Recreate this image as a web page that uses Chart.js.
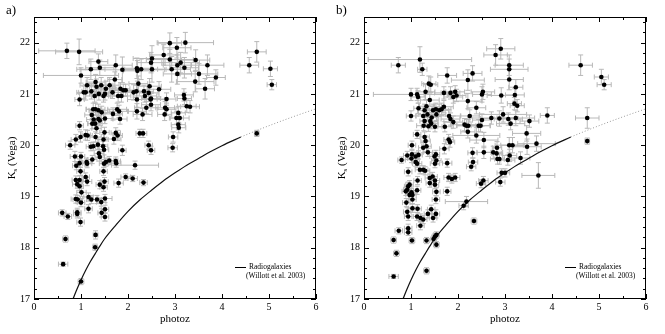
<!DOCTYPE html>
<html>
<head>
<meta charset="utf-8">
<script src="https://cdn.jsdelivr.net/npm/chart.js@4"></script>
<style>
body { margin: 0; background: #fff; width: 665px; height: 334px; position: relative; overflow: hidden; }
canvas { position: absolute; top: 0; }
</style>
</head>
<body>
<canvas id="chartA" width="332" height="334" style="left:0"></canvas>
<canvas id="chartB" width="332" height="334" style="left:330px"></canvas>
<script>
// [photoz, Ks, err photoz, err Ks]
var pointsA = [
  [0.70,21.84,0.6,0.15],[0.96,21.82,0.5,0.25],[1.00,21.36,0.8,0.15],[1.21,21.48,0.3,0.2],[1.37,21.63,0.2,0.15],
  [1.40,21.51,0.3,0.15],[1.74,21.56,0.35,0.2],[1.88,21.47,0.9,0.25],[2.19,21.50,0.3,0.2],[2.20,21.45,0.3,0.2],
  [2.28,21.48,0.35,0.2],[2.51,21.48,0.3,0.25],[2.49,21.61,0.3,0.2],[2.51,21.69,0.4,0.25],[2.76,21.76,0.3,0.2],
  [2.89,21.99,0.25,0.2],[3.04,21.90,0.3,0.2],[3.22,22.00,0.6,0.2],[2.89,21.67,0.5,0.2],[2.93,21.48,0.4,0.25],
  [3.05,21.56,0.3,0.2],[3.12,21.61,0.4,0.2],[3.20,21.51,0.3,0.2],[3.05,21.39,0.3,0.2],[3.44,21.66,0.3,0.2],
  [3.69,21.56,0.35,0.2],[3.51,21.39,0.4,0.2],[3.87,21.32,0.2,0.15],[3.43,21.24,0.4,0.2],[3.64,21.10,0.2,0.2],
  [4.58,21.56,0.2,0.15],[4.74,21.82,0.2,0.2],[5.03,21.49,0.15,0.15],[5.06,21.18,0.1,0.1],[4.74,20.23,0.05,0.06],
  [1.13,21.17,0.15,0.15],[1.10,21.03,0.15,0.15],[1.31,21.23,0.2,0.15],[1.33,21.14,0.15,0.15],[1.29,20.96,0.2,0.12],
  [1.38,21.00,0.2,0.12],[1.48,20.96,0.15,0.12],[1.53,21.10,0.2,0.15],[1.51,21.00,0.2,0.12],[1.43,21.17,0.25,0.15],
  [1.61,21.17,0.2,0.15],[1.67,21.03,0.2,0.12],[1.72,21.28,0.15,0.15],[1.79,20.96,0.2,0.12],[1.84,21.10,0.2,0.12],
  [1.90,21.07,0.3,0.12],[1.95,21.07,0.25,0.12],[1.86,20.96,0.2,0.12],[2.12,21.03,0.25,0.15],[2.18,21.05,0.2,0.12],
  [2.22,21.20,0.2,0.15],[2.34,21.05,0.2,0.12],[2.46,21.15,0.25,0.15],[2.44,21.02,0.2,0.12],[2.49,20.91,0.2,0.12],
  [2.36,20.96,0.25,0.12],[2.19,20.89,0.2,0.15],[2.66,21.09,0.25,0.15],[0.97,20.89,0.1,0.12],[3.19,20.98,0.2,0.12],
  [3.20,20.91,0.15,0.12],[2.82,20.90,0.2,0.12],[1.06,21.03,0.15,0.12],[1.22,21.05,0.2,0.15],
  [1.26,20.70,0.15,0.12],[1.31,20.70,0.2,0.12],[1.37,20.68,0.2,0.12],[1.44,20.64,0.25,0.12],[1.23,20.59,0.15,0.1],
  [1.27,20.50,0.15,0.1],[1.24,20.42,0.1,0.1],[1.30,20.42,0.15,0.1],[1.37,20.51,0.15,0.1],[1.51,20.52,0.15,0.1],
  [1.68,20.61,0.2,0.12],[1.77,20.70,0.2,0.12],[1.81,20.66,0.2,0.12],[1.83,20.51,0.15,0.1],[2.19,20.66,0.2,0.15],
  [2.31,20.60,0.2,0.12],[2.39,20.73,0.25,0.12],[2.49,20.79,0.2,0.12],[2.48,20.89,0.3,0.12],[2.79,20.73,0.2,0.12],
  [2.78,20.60,0.15,0.12],[2.82,20.70,0.2,0.12],[3.03,20.53,0.15,0.12],[3.10,20.53,0.2,0.12],[3.07,20.63,0.15,0.12],
  [3.07,20.40,0.15,0.1],[3.08,20.34,0.15,0.1],[3.25,20.76,0.2,0.12],[3.32,20.75,0.2,0.12],[0.97,20.38,0.08,0.08],
  [1.40,20.48,0.1,0.1],[1.33,20.33,0.1,0.1],
  [0.99,20.16,0.1,0.1],[1.10,20.20,0.1,0.1],[1.14,20.19,0.1,0.1],[0.77,20.00,0.1,0.08],[0.89,20.11,0.1,0.1],
  [1.21,19.97,0.1,0.08],[1.26,19.98,0.1,0.08],[1.31,20.16,0.12,0.1],[1.36,20.01,0.1,0.1],[1.48,20.11,0.1,0.1],
  [1.50,20.25,0.1,0.1],[1.47,19.98,0.1,0.1],[1.49,19.91,0.1,0.1],[1.38,19.84,0.1,0.08],[1.40,19.77,0.1,0.08],
  [1.70,20.12,0.15,0.1],[1.74,20.24,0.1,0.1],[1.78,20.19,0.1,0.1],[2.25,20.23,0.08,0.08],[2.32,20.23,0.08,0.08],
  [2.44,20.00,0.08,0.08],[2.49,19.90,0.08,0.08],[1.88,19.90,0.08,0.1],[2.95,19.95,0.1,0.08],[2.96,20.16,0.1,0.1],
  [0.87,19.78,0.1,0.1],[0.90,19.60,0.08,0.08],[0.97,19.65,0.1,0.08],[1.00,19.78,0.08,0.08],[0.99,19.49,0.08,0.08],
  [1.12,19.67,0.1,0.08],[1.13,19.64,0.1,0.08],[0.97,19.32,0.08,0.08],[0.89,19.32,0.08,0.08],[0.92,19.24,0.1,0.08],
  [0.97,19.20,0.08,0.08],[1.10,19.38,0.08,0.08],[1.13,19.29,0.1,0.08],[1.40,19.23,0.08,0.08],[1.24,19.72,0.1,0.08],
  [1.49,19.64,0.1,0.08],[1.48,19.49,0.08,0.08],[1.53,19.67,0.1,0.08],[1.50,19.29,0.08,0.08],[1.48,19.18,0.08,0.08],
  [1.60,19.70,0.1,0.08],[1.74,19.69,0.1,0.08],[1.75,19.65,0.1,0.08],[1.80,19.26,0.1,0.08],[1.95,19.38,0.1,0.06],
  [2.10,19.35,0.1,0.06],[2.15,19.61,0.5,0.08],[2.33,19.27,0.08,0.06],
  [0.89,18.95,0.1,0.08],[0.93,18.94,0.1,0.08],[1.01,19.08,0.1,0.08],[1.00,18.88,0.08,0.08],[1.16,18.99,0.1,0.08],
  [1.22,18.94,0.1,0.08],[1.34,18.94,0.1,0.08],[1.43,18.89,0.1,0.08],[1.51,18.96,0.15,0.08],[1.16,18.76,0.08,0.08],
  [0.92,18.69,0.08,0.08],[0.92,18.66,0.08,0.08],[0.60,18.68,0.08,0.06],[0.72,18.61,0.08,0.06],[0.99,18.50,0.08,0.08],
  [1.44,18.68,0.08,0.08],[1.51,18.60,0.08,0.08],[1.51,18.75,0.08,0.08],
  [0.67,18.17,0.06,0.06],[1.31,18.25,0.05,0.08],[1.30,18.01,0.05,0.06],[0.62,17.68,0.1,0.04],[1.00,17.34,0.06,0.06]
]
var pointsB = [
  [0.73,21.56,0.15,0.15],[1.19,21.67,1.1,0.25],[1.24,21.48,0.1,0.12],[2.80,21.76,0.25,0.2],[2.91,21.88,0.3,0.2],
  [3.09,21.48,0.4,0.2],[3.09,21.56,0.3,0.2],[3.09,21.28,0.3,0.2],[2.31,21.40,0.2,0.15],[2.21,21.27,0.35,0.2],
  [1.77,21.36,0.2,0.15],[4.61,21.56,0.25,0.2],[5.05,21.33,0.15,0.15],[5.11,21.18,0.15,0.1],
  [1.00,20.99,0.8,0.12],[1.13,20.99,0.15,0.12],[1.15,20.94,0.15,0.12],[1.31,21.04,0.2,0.15],[1.38,21.20,0.15,0.15],
  [1.42,21.18,0.15,0.15],[1.40,20.88,0.2,0.12],[1.70,21.02,0.2,0.12],[1.84,21.02,0.2,0.12],[1.94,21.04,0.2,0.12],
  [1.97,20.97,0.2,0.12],[1.90,20.94,0.2,0.12],[2.21,20.86,0.3,0.15],[2.51,20.99,0.2,0.15],[2.53,21.04,0.25,0.15],
  [2.92,20.97,0.3,0.15],[3.23,21.13,0.15,0.15],[3.21,20.98,0.2,0.12],[2.39,20.73,0.2,0.12],[1.16,20.72,0.1,0.1],
  [1.00,20.57,0.1,0.1],[1.29,20.68,0.15,0.12],[1.33,20.76,0.15,0.12],[1.35,20.60,0.2,0.12],[1.26,20.57,0.15,0.1],
  [1.27,20.38,0.15,0.1],[1.29,20.47,0.1,0.1],[1.47,20.68,0.2,0.12],[1.53,20.70,0.2,0.12],[1.54,20.60,0.2,0.12],
  [1.60,20.68,0.2,0.12],[1.65,20.70,0.2,0.12],[1.70,20.75,0.2,0.12],[1.81,20.57,0.25,0.12],[1.84,20.51,0.2,0.12],
  [1.90,20.45,0.2,0.12],[1.72,20.36,0.15,0.1],[1.37,20.37,0.15,0.1],[1.41,20.47,0.15,0.1],[1.51,20.36,0.15,0.1],
  [1.44,20.54,0.15,0.1],[1.43,20.42,0.15,0.1],[2.14,20.40,0.3,0.12],[2.18,20.38,0.2,0.12],[2.22,20.38,0.25,0.12],
  [2.25,20.57,0.2,0.12],[2.44,20.38,0.25,0.12],[2.48,20.38,0.2,0.12],[2.51,20.49,0.2,0.12],[2.71,20.53,0.5,0.12],
  [2.88,20.52,0.4,0.15],[2.96,20.60,0.5,0.15],[3.07,20.51,0.3,0.12],[3.12,20.42,0.3,0.12],[3.23,20.53,0.4,0.15],
  [3.20,20.81,0.15,0.12],[3.26,20.77,0.15,0.12],[3.52,20.47,0.2,0.12],[3.90,20.58,0.15,0.15],[4.75,20.53,0.25,0.2],
  [2.21,20.26,0.15,0.12],[2.39,20.19,0.5,0.15],[2.55,20.10,0.3,0.15],
  [1.13,20.21,0.08,0.08],[1.02,20.00,0.08,0.08],[1.29,20.16,0.1,0.1],[1.31,20.08,0.1,0.1],[1.33,19.98,0.1,0.1],
  [1.26,19.95,0.1,0.1],[1.36,19.86,0.1,0.08],[1.80,20.11,0.1,0.1],[1.83,20.06,0.1,0.1],[1.71,19.93,0.1,0.1],
  [1.02,19.82,0.1,0.08],[0.92,19.80,0.08,0.08],[1.10,19.78,0.08,0.08],[1.16,19.81,0.08,0.08],[3.09,20.00,0.3,0.15],
  [3.16,20.00,0.25,0.15],[3.46,20.23,0.3,0.15],[3.47,19.97,0.3,0.15],[3.67,20.03,0.4,0.15],[4.75,20.08,0.05,0.06],
  [3.10,19.80,0.15,0.12],[2.75,19.86,0.2,0.12],[2.83,19.95,0.1,0.12],[2.82,19.84,0.1,0.1],[2.84,19.73,0.15,0.1],
  [2.88,19.73,0.1,0.1],[3.06,19.71,0.15,0.1],[3.33,19.75,0.2,0.12],[2.55,19.86,0.15,0.12],
  [1.01,19.74,0.08,0.08],[0.80,19.71,0.08,0.06],[1.10,19.67,0.08,0.08],[1.13,19.64,0.1,0.08],[0.94,19.48,0.08,0.08],
  [1.19,19.52,0.1,0.08],[1.26,19.52,0.1,0.08],[1.30,19.50,0.1,0.08],[1.51,19.64,0.1,0.08],[1.50,19.78,0.1,0.08],
  [1.54,19.70,0.1,0.08],[1.53,19.82,0.08,0.08],[1.77,19.65,0.1,0.08],[1.46,19.39,0.1,0.08],[1.51,19.31,0.1,0.08],
  [1.40,19.26,0.08,0.08],[1.51,19.23,0.08,0.08],[1.80,19.37,0.1,0.08],[1.87,19.34,0.1,0.08],[1.94,19.37,0.1,0.08],
  [1.77,19.10,0.08,0.08],[1.40,19.36,0.1,0.08],[1.14,19.31,0.08,0.08],[1.13,19.12,0.08,0.08],[0.97,19.23,0.08,0.08],
  [0.94,19.20,0.08,0.08],[0.92,19.13,0.08,0.08],[0.89,19.10,0.08,0.08],[1.01,19.08,0.08,0.08],[1.54,19.09,0.08,0.08],
  [1.53,18.94,0.08,0.08],[2.28,19.58,0.1,0.08],[2.32,19.67,0.1,0.08],[2.31,19.85,0.1,0.1],[2.54,19.31,0.1,0.08],
  [2.49,19.25,0.1,0.08],[2.90,19.28,0.1,0.08],[2.93,19.46,0.1,0.08],[3.00,19.46,0.1,0.08],[3.71,19.41,0.35,0.25],
  [0.97,19.03,0.08,0.08],[1.03,19.03,0.08,0.08],[0.90,18.88,0.08,0.08],[1.03,18.94,0.08,0.08],[0.92,18.70,0.08,0.08],
  [1.03,18.77,0.08,0.08],[0.94,18.61,0.08,0.08],[1.13,18.61,0.08,0.08],[1.20,18.58,0.08,0.08],[1.26,18.55,0.08,0.08],
  [1.36,18.66,0.08,0.08],[1.43,18.75,0.08,0.08],[1.53,18.66,0.08,0.08],[1.47,18.58,0.08,0.08],[1.14,18.76,0.08,0.08],
  [1.20,18.43,0.08,0.08],[0.94,18.38,0.08,0.08],[0.74,18.33,0.08,0.06],[0.94,18.30,0.08,0.06],[2.18,18.90,0.45,0.1],
  [2.12,18.82,0.1,0.08],[2.34,18.52,0.06,0.06],[0.63,18.15,0.06,0.06],[1.02,18.14,0.06,0.06],[1.33,18.14,0.06,0.06],
  [1.51,18.22,0.06,0.06],[1.54,18.25,0.06,0.06],[1.48,18.17,0.06,0.06],[1.54,18.06,0.06,0.06],[0.69,17.89,0.06,0.06],
  [1.33,17.55,0.06,0.06],[0.63,17.44,0.1,0.04]
]
// K-z relation of radio galaxies (Willott et al. 2003)
var curveZ = [0.83, 0.9, 1.0, 1.1, 1.2, 1.3, 1.4, 1.5, 1.75, 2.0, 2.25, 2.5, 2.75, 3.0, 3.25, 3.5, 3.75, 4.0, 4.4]
var curveK = [17.0, 17.16, 17.37, 17.56, 17.73, 17.88, 18.03, 18.17, 18.45, 18.71, 18.93, 19.12, 19.30, 19.46, 19.61, 19.74, 19.87, 19.99, 20.16]
var dotZ = [4.4, 4.75, 5.0, 5.5, 6.0]
var dotK = [20.16, 20.29, 20.38, 20.55, 20.71]
var xTickLabels = [0, 1, 2, 3, 4, 5, 6]
var yTickLabels = [17, 18, 19, 20, 21, 22]

var serif = "'Liberation Serif', 'DejaVu Serif', serif"

// grey error bars under the points
var errorBars = {
    id: 'errorBars',
    beforeDatasetsDraw(chart) {
        var ctx = chart.ctx, a = chart.chartArea
        var sx = chart.scales.x, sy = chart.scales.y
        var cap = 2.5
        ctx.save()
        ctx.beginPath()
        ctx.rect(a.left, a.top, a.right - a.left, a.bottom - a.top)
        ctx.clip()
        ctx.strokeStyle = '#b8b8b8'
        ctx.lineWidth = 1
        ctx.beginPath()
        chart.data.datasets[0].data.forEach(function (p) {
            var px = sx.getPixelForValue(p.x), py = sy.getPixelForValue(p.y)
            var x0 = sx.getPixelForValue(p.x - p.ex), x1 = sx.getPixelForValue(p.x + p.ex)
            var y0 = sy.getPixelForValue(p.y - p.ey), y1 = sy.getPixelForValue(p.y + p.ey)
            ctx.moveTo(x0, py); ctx.lineTo(x1, py)
            ctx.moveTo(x0, py - cap); ctx.lineTo(x0, py + cap)
            ctx.moveTo(x1, py - cap); ctx.lineTo(x1, py + cap)
            ctx.moveTo(px, y0); ctx.lineTo(px, y1)
            ctx.moveTo(px - cap, y0); ctx.lineTo(px + cap, y0)
            ctx.moveTo(px - cap, y1); ctx.lineTo(px + cap, y1)
        })
        ctx.stroke()
        ctx.restore()
    }
}

// frame, inward ticks, titles, legend, panel letter
var frame = {
    id: 'frame',
    afterDraw(chart) {
        var ctx = chart.ctx, a = chart.chartArea
        var sx = chart.scales.x, sy = chart.scales.y
        ctx.save()
        ctx.strokeStyle = '#000'
        ctx.lineWidth = 1
        ctx.strokeRect(a.left + 0.5, a.top + 0.5, a.right - a.left - 1, a.bottom - a.top - 1)
        ctx.beginPath()
        for (var i = 0; i <= 12; i++) {
            var v = i / 2
            var len = i % 2 === 0 ? 5 : 3
            var px = Math.round(sx.getPixelForValue(v)) + 0.5
            ctx.moveTo(px, a.bottom); ctx.lineTo(px, a.bottom - len)
            ctx.moveTo(px, a.top); ctx.lineTo(px, a.top + len)
        }
        for (var j = 0; j <= 27; j++) {
            var w = 17 + j * 0.2
            var l2 = j % 5 === 0 ? 5 : 3
            var py = Math.round(sy.getPixelForValue(w)) + 0.5
            ctx.moveTo(a.left, py); ctx.lineTo(a.left + l2, py)
            ctx.moveTo(a.right, py); ctx.lineTo(a.right - l2, py)
        }
        ctx.stroke()

        ctx.fillStyle = '#000'
        // x title
        ctx.font = '11px ' + serif
        ctx.textAlign = 'center'
        ctx.textBaseline = 'middle'
        ctx.fillText('photoz', (a.left + a.right) / 2, 319)
        // y title K_s (Vega)
        ctx.save()
        ctx.translate(12, (a.top + a.bottom) / 2)
        ctx.rotate(-Math.PI / 2)
        ctx.textAlign = 'left'
        var wK = ctx.measureText('K').width
        ctx.font = '7px ' + serif
        var wS = ctx.measureText('s').width
        ctx.font = '11px ' + serif
        var wR = ctx.measureText(' (Vega)').width
        var start = -(wK + wS + wR) / 2
        ctx.fillText('K', start, 0)
        ctx.font = '7px ' + serif
        ctx.fillText('s', start + wK, 3)
        ctx.font = '11px ' + serif
        ctx.fillText(' (Vega)', start + wK + wS, 0)
        ctx.restore()
        // panel letter
        ctx.font = '13px ' + serif
        ctx.textAlign = 'left'
        ctx.fillText(chart.options.panelLetter, 6, 11)
        // legend
        ctx.beginPath()
        ctx.moveTo(235, 267.5); ctx.lineTo(246, 267.5)
        ctx.stroke()
        ctx.font = '7.5px ' + serif
        ctx.fillText('Radiogalaxies', 249, 267)
        ctx.fillText('(Willott et al. 2003)', 246, 276)
        ctx.restore()
    }
}

function makeChart(id, points, letter) {
    var data = points.map(function (p) { return { x: p[0], y: p[1], ex: p[2], ey: p[3] } })
    var solid = curveZ.map(function (z, i) { return { x: z, y: curveK[i] } })
    var dotted = dotZ.map(function (z, i) { return { x: z, y: dotK[i] } })
    return new Chart(document.getElementById(id).getContext('2d'), {
        type: 'scatter',
        data: {
            datasets: [{
                data: data,
                backgroundColor: '#000',
                borderWidth: 0,
                pointRadius: 2.3,
                order: 1
            }, {
                type: 'line',
                data: solid,
                borderColor: '#111',
                borderWidth: 1.2,
                pointRadius: 0,
                cubicInterpolationMode: 'monotone',
                fill: false,
                order: 2
            }, {
                type: 'line',
                data: dotted,
                borderColor: '#999',
                borderWidth: 1,
                borderDash: [1, 2],
                pointRadius: 0,
                cubicInterpolationMode: 'monotone',
                fill: false,
                order: 2
            }]
        },
        options: {
            panelLetter: letter,
            responsive: false,
            animation: false,
            layout: { padding: { top: 17, right: 16, left: 0, bottom: 0 } },
            plugins: { legend: { display: false }, tooltip: { enabled: false } },
            scales: {
                x: {
                    type: 'linear', min: 0, max: 6,
                    grid: { display: false, drawTicks: false },
                    border: { display: false },
                    afterBuildTicks: function (s) { s.ticks = xTickLabels.map(function (v) { return { value: v } }) },
                    ticks: { color: '#000', font: { family: serif, size: 10 }, padding: 2, maxRotation: 0 },
                    afterFit: function (s) { s.height = 35 }
                },
                y: {
                    type: 'linear', min: 17, max: 22.5,
                    grid: { display: false, drawTicks: false },
                    border: { display: false },
                    afterBuildTicks: function (s) { s.ticks = yTickLabels.map(function (v) { return { value: v } }) },
                    ticks: { color: '#000', font: { family: serif, size: 10 }, padding: 4 },
                    afterFit: function (s) { s.width = 34 }
                }
            }
        },
        plugins: [errorBars, frame]
    })
}

makeChart('chartA', pointsA, 'a)')
makeChart('chartB', pointsB, 'b)')
</script>
</body>
</html>
